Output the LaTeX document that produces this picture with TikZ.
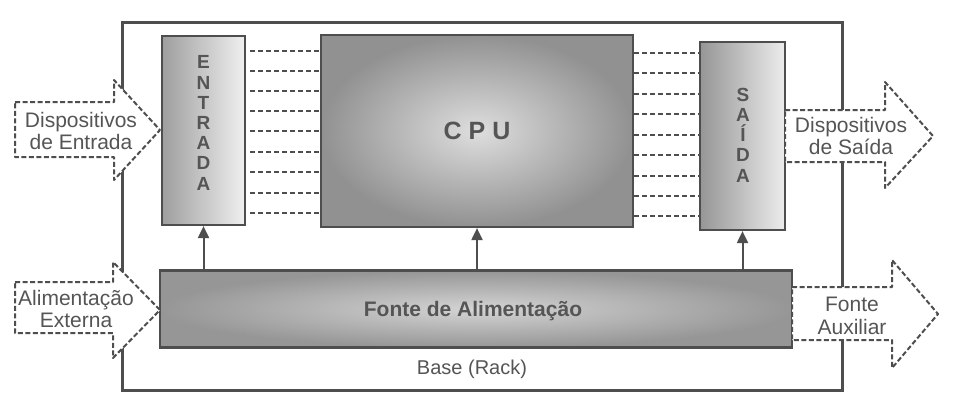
\documentclass[tikz,border=0pt]{standalone}
\usepackage{fontspec}
\setmainfont{Liberation Sans}
\usetikzlibrary{arrows.meta}
\definecolor{ink}{HTML}{4E4E4E}
\definecolor{txt}{HTML}{555555}
\newcommand\bigarr[8]{\draw[bigarrow] (#1,#2) -- (#4,#2) -- (#4,#5) -- (#7,#8) -- (#4,#6) -- (#4,#3) -- (#1,#3) -- cycle;}
\begin{document}
\begin{tikzpicture}[x=1pt,y=-1pt,
  box/.style={draw=ink, line width=2.2pt, inner sep=0pt},
  busline/.style={draw=ink, line width=2pt, dash pattern=on 5pt off 3pt},
  power/.style={draw=ink, line width=2pt, -{Triangle[length=12pt,width=11pt]}},
  bigarrow/.style={draw=ink, fill=white, line width=2pt, dash pattern=on 5pt off 2.5pt, line join=round},
  lbl/.style={text=txt, font=\fontsize{21}{22.5}\selectfont, align=center, inner sep=0pt},
  vlbl/.style={text=txt, font=\fontsize{19}{20.2}\selectfont\bfseries, align=center, inner sep=0pt}]
\useasboundingbox (0,0) rectangle (955,402);
\fill[white] (0,0) rectangle (955,402);
% rack frame
\node[draw=ink, line width=3pt, minimum width=720pt, minimum height=368pt, inner sep=0pt] (rack) at (482,206) {};
% modules
\node[box, shading=axis, left color={rgb,255:red,158;green,158;blue,158}, right color={rgb,255:red,240;green,240;blue,240}, minimum width=83pt, minimum height=189pt] (entrada) at (203.5,130.5) {};
\node[box, shading=radial, inner color={rgb,255:red,222;green,222;blue,222}, outer color={rgb,255:red,145;green,145;blue,145}, minimum width=312pt, minimum height=192pt] (cpu) at (477,131) {};
\node[box, shading=axis, left color={rgb,255:red,150;green,150;blue,150}, right color={rgb,255:red,236;green,236;blue,236}, minimum width=85pt, minimum height=188pt] (saida) at (742.5,136) {};
\node[box, shading=radial, inner color={rgb,255:red,212;green,212;blue,212}, outer color={rgb,255:red,150;green,150;blue,150}, minimum width=632pt, minimum height=77pt] (fonte) at (476,309) {};
% buses
\foreach \y in {51,71,91,111,131,152,172,193,213}
  \draw[busline, shorten <=4pt] (entrada.east |- 0,\y) -- (cpu.west |- 0,\y);
\foreach \y in {53,73,94,114,135,155,176,196,216}
  \draw[busline] (cpu.east |- 0,\y) -- (saida.west |- 0,\y);
% power
\draw[power] (fonte.north -| entrada.south) -- (entrada.south);
\draw[power] (fonte.north -| cpu.south) -- (cpu.south);
\draw[power] (fonte.north -| saida.south) -- (saida.south);
% big dashed arrows
\bigarr{15}{102}{157}{114}{80}{180}{160}{130}
\bigarr{15}{282}{333}{113}{262}{358}{160}{310}
\bigarr{785}{110}{162}{885}{82}{188}{933}{136}
\bigarr{792}{287}{340}{892}{260}{368}{938}{314}
% texts
\node[vlbl] (tin) at (203.5,123) {E\\N\\T\\R\\A\\D\\A};
\node[vlbl] (tout) at (743,135) {S\\A\\Í\\D\\A};
\node[text=txt, font=\fontsize{25}{27}\selectfont\bfseries, inner sep=0pt] (tcpu) at (477,131) {C P U};
\node[text=txt, font=\fontsize{21}{23}\selectfont\bfseries, inner sep=0pt] (tfonte) at (473,311) {Fonte de Alimentação};
\node[lbl, font=\fontsize{20}{22}\selectfont] (tbase) at (472,369) {Base (Rack)};
\node[lbl] (tdin) at (81,131) {Dispositivos\\de Entrada};
\node[lbl] (talim) at (76,309) {Alimentação\\Externa};
\node[lbl] (tdout) at (851,136) {Dispositivos\\de Saída};
\node[lbl] (taux) at (852,316) {Fonte\\Auxiliar};
\end{tikzpicture}
\end{document}
